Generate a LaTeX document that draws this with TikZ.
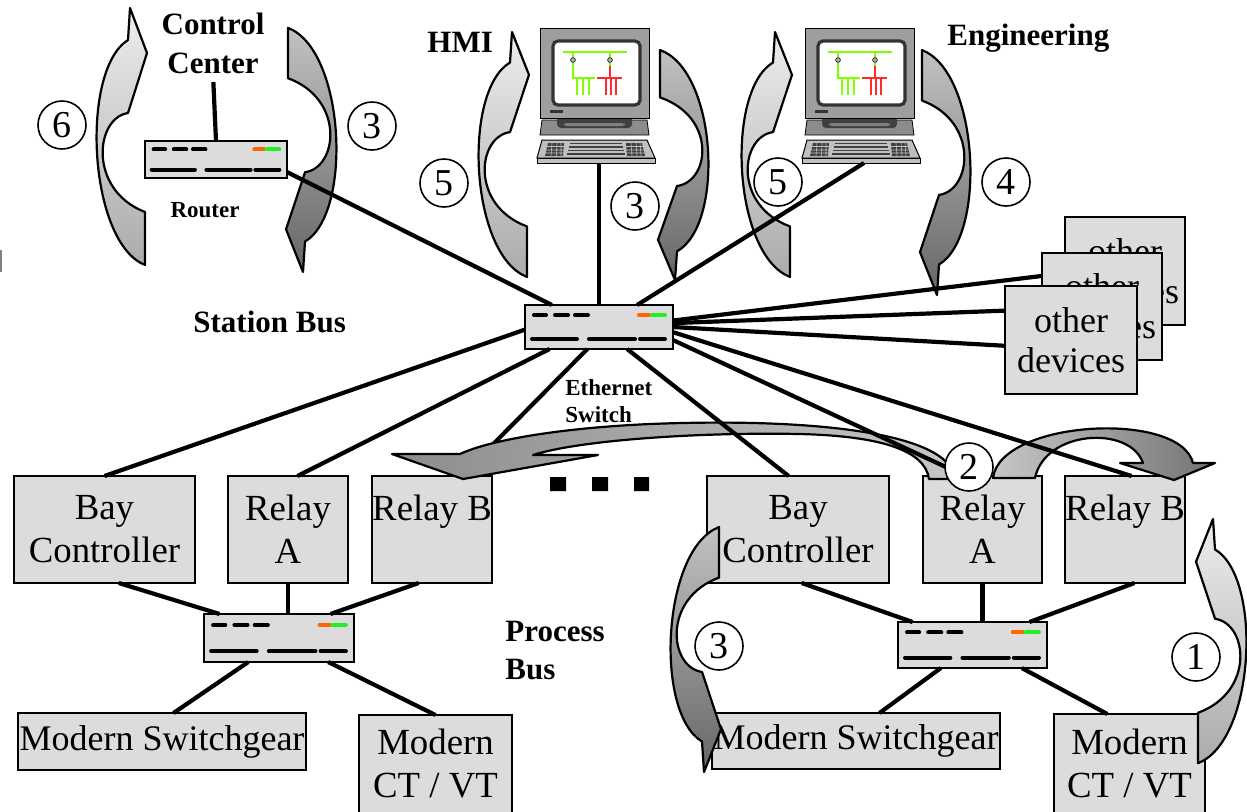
\documentclass[tikz,border=0pt]{standalone}
\usepackage{fontspec}
\setmainfont{Liberation Serif}
\usetikzlibrary{calc}
\definecolor{boxgray}{HTML}{DCDCDC}
\definecolor{swor}{HTML}{FF6600}
\definecolor{swgr}{HTML}{22EE22}
\definecolor{scrgreen}{HTML}{7FFF00}
\definecolor{scrred}{HTML}{FF2A2A}

% network switch / router box with its port dashes and status lights
\newcommand\netsw[5]{%
  \node[swbox, minimum width=#4*0.5pt, minimum height=#5*0.5pt] (#1) at (#2,#3) {};
  \begin{scope}[shift={(#1.north west)}, xscale=#4/148, yscale=#5/44]
    \draw[line width=2pt, line cap=round] (9,10)--(21,10) (30,10)--(43,10) (50,10)--(63,10);
    \draw[line width=2pt, line cap=round, swor] (114,10)--(124,10);
    \draw[line width=2pt, line cap=round, swgr] (127,10)--(140,10);
    \draw[line width=2pt, line cap=round] (7,34)--(52,34) (64,34)--(110,34) (115,34)--(140,34);
  \end{scope}}

% workstation: monitor with a single-line diagram, stand and keyboard
\newcommand\computer[3]{%
  \begin{scope}[shift={(#2,#3)}]
    \filldraw[fill=black!45, draw=black, line width=0.4pt] (2,92) -- (107,92) -- (109,107) -- (0,107) -- cycle;
    \fill[black!75, rounded corners=2pt] (17,88) rectangle (92,100);
    \fill[black!50, rounded corners=1.5pt] (24,95) rectangle (85,98);
    \filldraw[fill=black!38, draw=black, line width=0.5pt] (0,0) rectangle (109,90);
    \filldraw[fill=white, draw=black!80, line width=1.6pt, rounded corners=2.5pt] (13,13) rectangle (100,77);
    \fill[black!80] (10,82) rectangle (23,85);
    % keyboard
    \filldraw[fill=black!25, draw=black, line width=0.5pt] (2,112) -- (107,112) -- (115,130) -- (-3,130) -- cycle;
    \filldraw[fill=black!25, draw=black, line width=0.5pt] (-3,130) rectangle (115,135);
    \fill[black!75] (8,115) -- (24,115) -- (23,128) -- (5,128) -- cycle;
    \fill[black!75] (86,115) -- (102,115) -- (105,128) -- (87,128) -- cycle;
    \draw[black!25, line width=0.3pt] (6,118.5)--(24,118.5) (6,122)--(24,122) (5,125)--(23.5,125)
      (12,115)--(11,128) (17,115)--(16.5,128) (21,115)--(21,128)
      (86,118.5)--(103,118.5) (87,122)--(104,122) (87,125)--(104.5,125)
      (91,115)--(92,128) (96,115)--(97,128) (100,115)--(101,128);
    \draw[black!75, line width=0.7pt] (30,115.5)--(82,115.5) (29,119)--(83,119) (28,122.5)--(84,122.5) (27,126)--(85,126);
    % single-line diagram on the screen
    \draw[scrgreen, line width=1pt] (23,24) -- (87,24) (33,24) -- (33,30) (70,24) -- (70,30);
    \filldraw[fill=black!30, draw=black, line width=0.3pt] (33,32) circle (2.4) (70,32) circle (2.4);
    \draw[scrgreen, line width=1pt] (33,34.5) -- (33,50) -- (55,50);
    \draw[scrgreen, line width=0.8pt] (37,50)--(37,67) (43,50)--(43,67) (49,50)--(49,67) (70,34.5)--(70,38);
    \draw[scrred, line width=0.8pt] (70,38)--(70,50) (57,50)--(82,50) (66,50)--(66,67) (71,50)--(71,67) (76,50)--(76,67);
    \coordinate (#1) at (59,135);
  \end{scope}}

% curved block arrow, head at the top (local origin = tip)
\newcommand\arrUp[4]{%
  \begin{scope}[shift={(#1,#2)}, xscale=#3, yscale=#4]
    \path[cvarrow, upshade] (15,257) .. controls (-42,234) and (-50,62) .. (-2,32) -- (0,0) -- (17,45) -- (-2,105)
      .. controls (-35,110) and (-42,182) .. (15,204) -- cycle;
  \end{scope}}

% curved block arrow, head at the bottom (local origin = tip)
\newcommand\arrDn[4]{%
  \begin{scope}[shift={(#1,#2)}, xscale=#3, yscale=#4]
    \path[cvarrow, dnshade] (-15,-257) .. controls (42,-234) and (50,-62) .. (2,-32) -- (0,0) -- (-17,-45) -- (2,-105)
      .. controls (35,-110) and (42,-182) .. (-15,-204) -- cycle;
  \end{scope}}

\begin{document}
\begin{tikzpicture}[x=0.5pt, y=-0.5pt,
  box/.style={draw, line width=0.75pt, fill=boxgray, inner sep=0pt, outer sep=0pt, align=center,
    font=\fontsize{18.4}{21.5}\selectfont},
  sz/.style 2 args={minimum width=#1*0.5pt, minimum height=#2*0.5pt},
  swbox/.style={draw, line width=1pt, fill=boxgray, inner sep=0pt, outer sep=0pt},
  wire/.style={line width=2.1pt},
  cvarrow/.style={draw, line width=1.1pt, line join=round},
  upshade/.style={top color=black!7, bottom color=black!33},
  dnshade/.style={top color=black!24, bottom color=black!60},
  num/.style={circle, draw, line width=0.8pt, fill=white, minimum size=24pt, inner sep=0pt,
    font=\fontsize{19}{19}\selectfont},
  blbl/.style={font=\bfseries\fontsize{15.5}{19.2}\selectfont, inner sep=0pt},
  slbl/.style={font=\bfseries\fontsize{11.5}{13.5}\selectfont, inner sep=0pt, align=left},
  odbox/.style={box, font=\fontsize{18}{20}\selectfont},
]
\clip (0,0) rectangle (1247,811);
\fill[white] (0,0) rectangle (1247,811);
\fill[black!50] (0,250) rectangle (2,272);

% ---- station level ----
\node[blbl, align=center, anchor=north] (cc) at (213,13) {Control\\Center};
\netsw{rt}{216}{159.5}{142}{37}
\node[blbl, font=\bfseries\fontsize{11.5}{13.5}\selectfont, anchor=base] (rtl) at (205,217) {Router};
\node[blbl, anchor=base west] (hmil) at (427,52) {HMI};
\node[blbl, anchor=base west] (engl) at (947,45) {Engineering};
\node[blbl, anchor=base west] (sbl) at (193,332) {Station Bus};
\computer{hmiPort}{540}{28}
\computer{engPort}{805}{28}
\netsw{swM}{599}{327}{148}{44}
\node[slbl, anchor=north west] (ethl) at (565,379.5) {Ethernet\\Switch};

% other devices (stacked)
\node[odbox, sz={120}{108}] (odB) at (1125,271) {other\\devices};
\node[odbox, sz={120}{107}] (odM) at (1102,306.5) {other\\devices};
\node[odbox, sz={132}{108}] (odF) at (1071,340) {other\\devices};

% ---- bay level, left ----
\node[box, sz={181}{107}] (bcL) at (104.5,529.5) {Bay\\Controller};
\node[box, sz={120}{107}] (raL) at (288,529.5) {Relay\\A};
\node[box, sz={120}{107}] (rbL) at (432,529.5) {Relay B\\\mbox{}};
\netsw{swL}{279}{638}{150}{48}
\node[box, sz={288}{57}, font=\fontsize{18}{20}\selectfont] (msL) at (162,741.5) {Modern Switchgear};
\node[box, sz={153}{120}] (ctL) at (435.5,775) {};
\node[box, draw=none, fill=none, anchor=north] (ctLt) at (435.5,728.5) {Modern\\CT / VT};
\node[blbl, align=left, anchor=north west] (pbl) at (505,620.5) {Process\\Bus};

% ---- bay level, right ----
\node[box, sz={182}{107}] (bcR) at (798,529.5) {Bay\\Controller};
\node[box, sz={119}{107}] (raR) at (982.5,529.5) {Relay\\A};
\node[box, sz={120}{107}] (rbR) at (1125,529.5) {Relay B\\\mbox{}};
\netsw{swR}{972.5}{645}{149}{46}
\node[box, sz={288}{56}, font=\fontsize{18}{20}\selectfont] (msR) at (856,741) {Modern Switchgear};
\node[box, sz={151}{122}] (ctR) at (1129.5,775) {};
\node[box, draw=none, fill=none, anchor=north] (ctRt) at (1129.5,728.5) {Modern\\CT / VT};

% more bays
\fill (550,477) rectangle (566,491) (592,477) rectangle (608,491) (634,477) rectangle (649,491);

% link hidden under the GOOSE arrow head
\draw[wire] (swM.-118.6) -- (rbL.61.5);

% ---- curved message arrows ----
\arrUp{130}{8}{1}{1}
\arrUp{512}{32}{1}{0.953}
\arrUp{775}{32}{1}{0.953}
\arrUp{1213}{519}{-1}{0.95}
\arrDn{303}{272}{1}{0.95}
\arrDn{675}{280}{1}{0.895}
\arrDn{937}{295}{1}{0.953}
\arrDn{704}{772}{-1}{0.953}
% peer-to-peer arrows from relay A
\path[cvarrow, left color=black!45, right color=black!22]
  (955,479) .. controls (950,430) and (800,418) .. (650,424)
  .. controls (560,428) and (490,440) .. (460,454)
  -- (392,454) -- (463,479) -- (598,455) -- (533,455)
  .. controls (580,440) and (700,432) .. (800,434)
  .. controls (880,436) and (925,450) .. (929,479) -- cycle;
\path[cvarrow, left color=black!22, right color=black!55]
  (993,478) .. controls (1000,420) and (1180,410) .. (1193,463) -- (1215,463) -- (1174,480)
  -- (1120,463) -- (1143,463) .. controls (1130,425) and (1045,430) .. (1035,478) -- cycle;

% ---- station bus links ----
\draw[wire, shorten <=4pt] (cc.south) -- (rt.north);
\draw[wire] (rt.-10.8) -- (swM.155.8);
\draw[wire] (hmiPort) -- (swM.north);
\draw[wire] (engPort) -- (swM.30);
\draw[wire] (swM.5.4) -- (odM.153.8);
\draw[wire] (swM.3.1) -- (odF.156.3);
\draw[wire] (swM.-0.8) -- (odF.185.2);
\draw[wire] (swM.-4.6) -- (rbR.83.6);
\draw[wire] (swM.-10.7) -- (raR.108.1);
\draw[wire] (swM.-38.2) -- (bcR.100.6);
\draw[wire] (swM.-156.7) -- (raL.80.45);
\draw[wire] (swM.182.3) -- (bcL.north);

% ---- process bus links ----
\draw[wire] (bcL.-75.8) -- (swL.158.5);
\draw[wire] (raL.south) -- (raL.south |- swL.north);
\draw[wire] (rbL.-104.7) -- (swL.25.2);
\draw[wire] (swL.-142.3) -- (msL.68.9);
\draw[wire] (swL.-26.1) -- (ctL.north);
\draw[wire] (bcR.-86.8) -- (swR.159.2);
\draw[wire] (raR.south) -- (raR.south |- swR.north);
\draw[wire] (rbR.-80.5) -- (swR.22.9);
\draw[wire] (swR.-144.7) -- (msR.50.6);
\draw[wire] (swR.-25.8) -- (ctR.110.6);

% ---- step numbers ----
\node[num] (n6) at (62,125) {6};
\node[num] (n3a) at (372,126) {3};
\node[num] (n5a) at (444,183) {5};
\node[num] (n3b) at (635,206) {3};
\node[num] (n5b) at (778,182) {5};
\node[num] (n4) at (1006,182) {4};
\node[num] (n2) at (969,467) {2};
\node[num] (n3c) at (719,646) {3};
\node[num] (n1) at (1196,657) {1};
\end{tikzpicture}
\end{document}
